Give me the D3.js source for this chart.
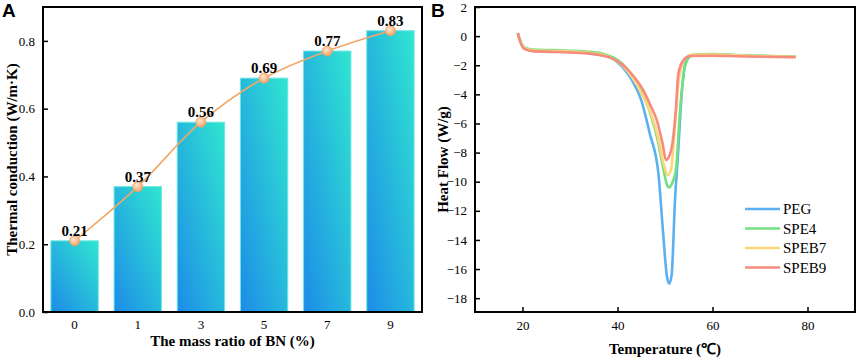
<!DOCTYPE html>
<html>
<head>
<meta charset="utf-8">
<script src="https://cdnjs.cloudflare.com/ajax/libs/d3/7.8.5/d3.min.js"></script>
<style>
	body { margin: 0; background: #fff; }
	svg { display: block; font-family: "Liberation Serif", "Times New Roman", serif; }
	.axis text { font-family: "Liberation Serif", "Times New Roman", serif; font-size: 13px; }
</style>
</head>
<body>
<div id="chart"></div>
<script>
// panel A data
var bnRatios = ["0", "1", "3", "5", "7", "9"];
var conductivity = [0.21, 0.37, 0.56, 0.69, 0.77, 0.83];
var ticksA = [0.0, 0.2, 0.4, 0.6, 0.8];

// panel B data, [temperature, heat flow]
var seriesNames = ["PEG", "SPE4", "SPEB7", "SPEB9"];
var seriesColors = ["#5ab0f0", "#72e07e", "#fdd57c", "#f78c7c"];
var pegCurve = [[19,0.2],[19.6,-0.4],[20.5,-0.85],[22,-0.98],[26,-1.02],[30,-1.07],[34,-1.17],[36.5,-1.3],[38.4,-1.45],[40,-1.8],[41.5,-2.3],[43,-3.0],[45,-4.4],[46.8,-6.7],[48.6,-9.4],[49.6,-13.5],[50.4,-16.5],[50.9,-17.0],[51.4,-16.4],[52.1,-11.3],[52.8,-7.8],[53.5,-4.0],[54.2,-2.0],[55,-1.45],[56,-1.32],[60,-1.28],[65,-1.32],[70,-1.37],[77.5,-1.42]];
var spe4Curve = [[19,0.2],[19.6,-0.4],[20.5,-0.8],[22,-0.92],[26,-0.96],[30,-1.0],[34,-1.08],[37,-1.22],[39,-1.45],[41,-1.9],[43,-2.7],[45,-3.8],[47,-5.4],[48.5,-7.2],[49.7,-9.2],[50.4,-10.2],[50.9,-10.4],[51.5,-10.1],[52.3,-9.2],[53.2,-5.0],[54.2,-2.1],[55.2,-1.4],[56,-1.27],[60,-1.24],[65,-1.3],[70,-1.35],[77.5,-1.42]];
var speb7Curve = [[19,0.2],[19.6,-0.4],[20.5,-0.85],[22,-0.97],[26,-1.02],[30,-1.06],[34,-1.15],[37,-1.3],[39,-1.55],[41,-2.0],[43,-2.8],[45,-3.9],[47,-5.3],[48.5,-6.9],[49.8,-8.9],[50.6,-9.55],[51.3,-9.1],[52.0,-6.6],[52.8,-3.3],[53.8,-1.8],[55,-1.35],[56,-1.29],[60,-1.27],[65,-1.32],[70,-1.37],[77.5,-1.43]];
var speb9Curve = [[19,0.2],[19.6,-0.45],[20.5,-0.9],[22,-1.03],[26,-1.08],[30,-1.13],[34,-1.2],[37,-1.35],[39,-1.55],[41,-1.95],[43,-2.6],[45.4,-3.7],[47,-4.8],[48.3,-5.8],[49.5,-7.4],[50.2,-8.5],[50.8,-8.3],[51.6,-7.3],[52.3,-5.0],[52.8,-2.6],[53.9,-1.65],[55.3,-1.37],[60,-1.35],[65,-1.38],[70,-1.42],[77.5,-1.45]];
var curves = [pegCurve, spe4Curve, speb7Curve, speb9Curve];
var ticksBx = [20, 40, 60, 80];
var ticksBy = [2, 0, -2, -4, -6, -8, -10, -12, -14, -16, -18];

var svg = d3.select("#chart").append("svg")
		.attr("width", 858)
		.attr("height", 360);

var defs = svg.append("defs");
var barGrad = defs.append("linearGradient")
		.attr("id", "barGrad")
		.attr("x1", "0").attr("y1", "1")
		.attr("x2", "1").attr("y2", "0");
barGrad.append("stop").attr("offset", "0%").attr("stop-color", "#1d8be8");
barGrad.append("stop").attr("offset", "100%").attr("stop-color", "#30e6d0");

var dotGrad = defs.append("radialGradient")
		.attr("id", "dotGrad")
		.attr("cx", "40%").attr("cy", "35%").attr("r", "65%");
dotGrad.append("stop").attr("offset", "0%").attr("stop-color", "#fde6d2");
dotGrad.append("stop").attr("offset", "100%").attr("stop-color", "#f2a466");

// tick styling shared by both panels
function styleAxis(g, keepTicks) {
	g.attr("class", "axis").attr("font-family", null).attr("font-size", null);
	g.select(".domain").remove();
	g.selectAll("line").style("stroke-width", 1.5);
}

////////////////////// PANEL A //////////////////////
var A = { left: 43, right: 422, top: 7, bottom: 312 };

var xA = d3.scaleBand()
		.domain(bnRatios)
		.range([A.left, A.right])
		.paddingInner(0.25)
		.paddingOuter(0.125);

var yA = d3.scaleLinear()
		.domain([0, 0.9])
		.range([A.bottom, A.top]);

var gA = svg.append("g");

gA.selectAll("rect.bar")
		.data(conductivity)
		.enter().append("rect")
		.attr("class", "bar")
		.attr("x", function(d, i) { return xA(bnRatios[i]); })
		.attr("y", function(d) { return yA(d); })
		.attr("width", xA.bandwidth())
		.attr("height", function(d) { return yA(0) - yA(d); })
		.style("fill", "url(#barGrad)")
		.style("stroke", "#6ae8e2")
		.style("stroke-width", 1);

var lineA = d3.line()
		.x(function(d, i) { return xA(bnRatios[i]) + xA.bandwidth() / 2; })
		.y(function(d) { return yA(d); })
		.curve(d3.curveCatmullRom);

gA.append("path")
		.datum(conductivity)
		.attr("d", lineA)
		.style("fill", "none")
		.style("stroke", "#f2a867")
		.style("stroke-width", 1.6);

gA.selectAll("circle.dot")
		.data(conductivity)
		.enter().append("circle")
		.attr("class", "dot")
		.attr("cx", function(d, i) { return xA(bnRatios[i]) + xA.bandwidth() / 2; })
		.attr("cy", function(d) { return yA(d); })
		.attr("r", 5)
		.style("fill", "url(#dotGrad)")
		.style("stroke", "#f0a062")
		.style("stroke-width", 0.8);

gA.selectAll("text.val")
		.data(conductivity)
		.enter().append("text")
		.attr("class", "val")
		.attr("x", function(d, i) { return xA(bnRatios[i]) + xA.bandwidth() / 2; })
		.attr("y", function(d) { return yA(d) - 5; })
		.attr("text-anchor", "middle")
		.style("font-size", "15px")
		.style("font-weight", "bold")
		.text(function(d) { return d.toFixed(2); });

// frame
gA.append("rect")
		.attr("x", A.left).attr("y", A.top)
		.attr("width", A.right - A.left).attr("height", A.bottom - A.top)
		.style("fill", "none").style("stroke", "#000").style("stroke-width", 2);

gA.append("g")
		.attr("transform", "translate(" + A.left + ",0)")
		.call(d3.axisLeft(yA).tickValues(ticksA).tickSize(-5).tickPadding(8).tickFormat(d3.format(".1f")))
		.call(styleAxis);

gA.append("g")
		.attr("transform", "translate(0," + A.bottom + ")")
		.call(d3.axisBottom(xA).tickSize(0).tickPadding(8))
		.call(styleAxis);

gA.append("text")
		.attr("x", (A.left + A.right) / 2)
		.attr("y", 346)
		.attr("text-anchor", "middle")
		.style("font-size", "15px").style("font-weight", "bold")
		.text("The mass ratio of BN (%)");

gA.append("text")
		.attr("transform", "translate(17," + (A.top + A.bottom) / 2 + ") rotate(-90)")
		.attr("text-anchor", "middle")
		.style("font-size", "15px").style("font-weight", "bold")
		.text("Thermal conduction (W/m·K)");

svg.append("text")
		.attr("x", 2).attr("y", 17)
		.style("font-family", "Liberation Sans, Arial, sans-serif")
		.style("font-size", "19px").style("font-weight", "bold")
		.text("A");

////////////////////// PANEL B //////////////////////
var B = { left: 475, right: 855, top: 7, bottom: 312 };

var xB = d3.scaleLinear().domain([10, 90]).range([B.left, B.right]);
var yB = d3.scaleLinear().domain([-18.95, 2]).range([B.bottom, B.top]);

var gB = svg.append("g");

var lineB = d3.line()
		.x(function(d) { return xB(d[0]); })
		.y(function(d) { return yB(d[1]); })
		.curve(d3.curveMonotoneX);

gB.selectAll("path.curve")
		.data(curves)
		.enter().append("path")
		.attr("class", "curve")
		.attr("d", lineB)
		.style("fill", "none")
		.style("stroke", function(d, i) { return seriesColors[i]; })
		.style("stroke-width", 2.6)
		.style("stroke-linejoin", "round");

gB.append("rect")
		.attr("x", B.left).attr("y", B.top)
		.attr("width", B.right - B.left).attr("height", B.bottom - B.top)
		.style("fill", "none").style("stroke", "#000").style("stroke-width", 2);

gB.append("g")
		.attr("transform", "translate(" + B.left + ",0)")
		.call(d3.axisLeft(yB).tickValues(ticksBy).tickSize(-5).tickPadding(8))
		.call(styleAxis);

gB.append("g")
		.attr("transform", "translate(0," + B.bottom + ")")
		.call(d3.axisBottom(xB).tickValues(ticksBx).tickSize(-5).tickPadding(9))
		.call(styleAxis);

gB.append("text")
		.attr("x", (B.left + B.right) / 2)
		.attr("y", 354)
		.attr("text-anchor", "middle")
		.style("font-size", "15px").style("font-weight", "bold")
		.text("Temperature (℃)");

gB.append("text")
		.attr("transform", "translate(448," + (B.top + B.bottom) / 2 + ") rotate(-90)")
		.attr("text-anchor", "middle")
		.style("font-size", "15px").style("font-weight", "bold")
		.text("Heat Flow (W/g)");

svg.append("text")
		.attr("x", 431).attr("y", 17)
		.style("font-family", "Liberation Sans, Arial, sans-serif")
		.style("font-size", "19px").style("font-weight", "bold")
		.text("B");

// legend
var legend = gB.selectAll("g.leg")
		.data(seriesNames)
		.enter().append("g")
		.attr("class", "leg")
		.attr("transform", function(d, i) { return "translate(745," + (209 + i * 19.5) + ")"; });

legend.append("line")
		.attr("x1", 0).attr("x2", 35)
		.style("stroke", function(d, i) { return seriesColors[i]; })
		.style("stroke-width", 2.6);

legend.append("text")
		.attr("x", 38).attr("y", 5)
		.style("font-size", "15px")
		.text(function(d) { return d; });
</script>
</body>
</html>
